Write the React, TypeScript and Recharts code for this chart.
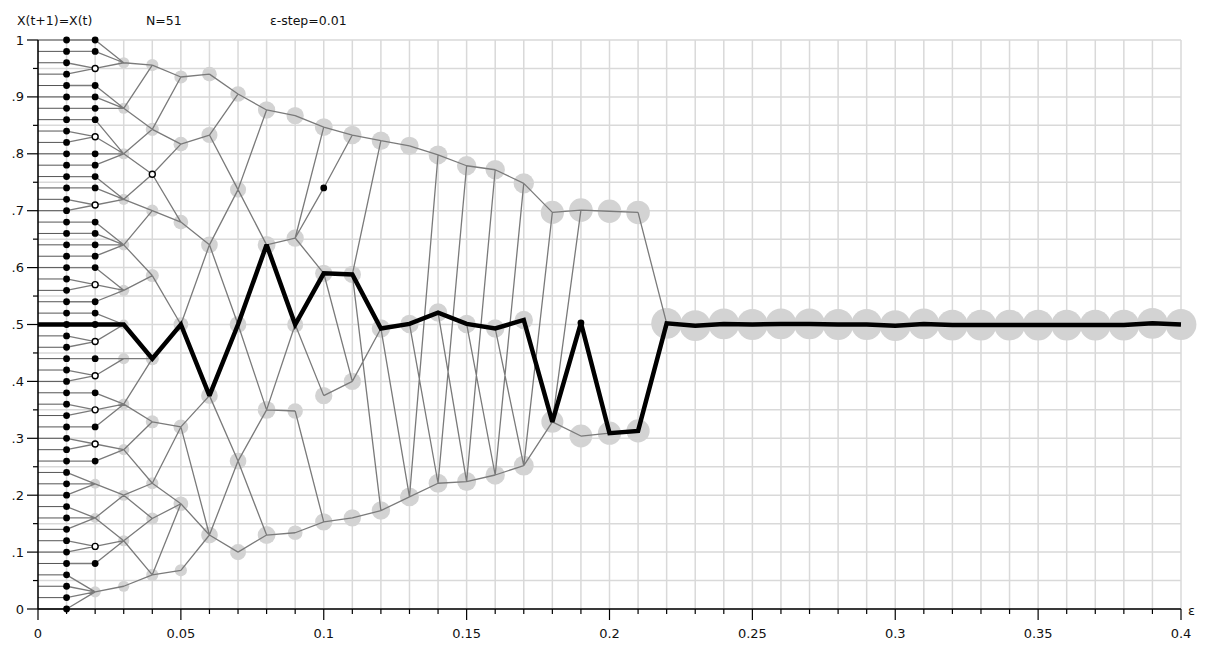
import React from 'react';
import { ComposedChart, Line, Scatter, XAxis, YAxis, CartesianGrid } from 'recharts';

// starting states of the N=51 elements
const initialValues = [
  0, 0.02, 0.04, 0.06, 0.08, 0.1, 0.12, 0.14, 0.16, 0.18, 0.2, 0.22, 0.24, 0.26, 0.28, 0.3, 0.32,
  0.34, 0.36, 0.38, 0.4, 0.42, 0.44, 0.46, 0.48, 0.5, 0.52, 0.54, 0.56, 0.58, 0.6, 0.62, 0.64, 0.66,
  0.68, 0.7, 0.72, 0.74, 0.76, 0.78, 0.8, 0.82, 0.84, 0.86, 0.88, 0.9, 0.92, 0.94, 0.96, 0.98, 1,
];

// single elements [eps, x]
const singleDots: [number, number][] = [
  [0.02, 1], [0.02, 0.98], [0.02, 0.92], [0.02, 0.9], [0.02, 0.88], [0.02, 0.86], [0.02, 0.8],
  [0.02, 0.78], [0.02, 0.76], [0.02, 0.74], [0.02, 0.68], [0.02, 0.66], [0.02, 0.64], [0.02, 0.62],
  [0.02, 0.6], [0.02, 0.54], [0.02, 0.52], [0.02, 0.5], [0.02, 0.44], [0.02, 0.38], [0.02, 0.32],
  [0.02, 0.26], [0.02, 0.08], [0.1, 0.74], [0.19, 0.503],
];

// pairs of elements [eps, x]
const pairDots: [number, number][] = [
  [0.02, 0.95], [0.02, 0.83], [0.02, 0.71], [0.02, 0.57], [0.02, 0.47], [0.02, 0.41],
  [0.02, 0.35], [0.02, 0.29], [0.02, 0.11], [0.04, 0.764],
];

// clusters [eps, x, members]
const clusters: [number, number, number][] = [
  [0.02, 0.22, 3], [0.02, 0.16, 3], [0.02, 0.03, 4],
  [0.03, 0.96, 4], [0.03, 0.88, 4], [0.03, 0.8, 4], [0.03, 0.72, 4], [0.03, 0.64, 4], [0.03, 0.56, 4],
  [0.03, 0.5, 3], [0.03, 0.44, 4], [0.03, 0.36, 4], [0.03, 0.28, 4], [0.03, 0.2, 4], [0.03, 0.12, 4], [0.03, 0.04, 4],
  [0.04, 0.956, 5], [0.04, 0.843, 6], [0.04, 0.7, 5], [0.04, 0.586, 6], [0.04, 0.44, 6],
  [0.04, 0.329, 6], [0.04, 0.221, 5], [0.04, 0.159, 5], [0.04, 0.06, 5],
  [0.05, 0.935, 6], [0.05, 0.817, 8], [0.05, 0.68, 8], [0.05, 0.5, 8], [0.05, 0.32, 8], [0.05, 0.185, 8], [0.05, 0.068, 5],
  [0.06, 0.94, 8], [0.06, 0.833, 10], [0.06, 0.64, 11], [0.06, 0.375, 11], [0.06, 0.13, 11],
  [0.07, 0.905, 9], [0.07, 0.737, 10], [0.07, 0.5, 11], [0.07, 0.26, 11], [0.07, 0.1, 10],
  [0.08, 0.877, 12], [0.08, 0.64, 13], [0.08, 0.35, 13], [0.08, 0.13, 13],
  [0.09, 0.867, 12], [0.09, 0.652, 12], [0.09, 0.5, 10], [0.09, 0.348, 9], [0.09, 0.134, 8],
  [0.1, 0.847, 13], [0.1, 0.59, 12], [0.1, 0.375, 12], [0.1, 0.153, 12],
  [0.11, 0.833, 14], [0.11, 0.588, 12], [0.11, 0.4, 12], [0.11, 0.16, 12],
  [0.12, 0.823, 14], [0.12, 0.493, 14], [0.12, 0.173, 14],
  [0.13, 0.814, 14], [0.13, 0.501, 14], [0.13, 0.197, 15],
  [0.14, 0.798, 15], [0.14, 0.521, 14], [0.14, 0.221, 15],
  [0.15, 0.779, 16], [0.15, 0.501, 14], [0.15, 0.224, 15],
  [0.16, 0.772, 16], [0.16, 0.493, 14], [0.16, 0.2355, 16],
  [0.17, 0.748, 18], [0.17, 0.508, 14], [0.17, 0.252, 17],
  [0.18, 0.697, 25], [0.18, 0.329, 22],
  [0.19, 0.701, 26], [0.19, 0.304, 24],
  [0.2, 0.699, 26], [0.2, 0.309, 25],
  [0.21, 0.697, 26], [0.21, 0.313, 25],
  [0.22, 0.502, 51], [0.23, 0.498, 51], [0.24, 0.501, 51], [0.25, 0.5, 51], [0.26, 0.501, 51],
  [0.27, 0.501, 51], [0.28, 0.5, 51], [0.29, 0.5, 51], [0.3, 0.498, 51], [0.31, 0.501, 51],
  [0.32, 0.499, 51], [0.33, 0.499, 51], [0.34, 0.499, 51], [0.35, 0.499, 51], [0.36, 0.499, 51],
  [0.37, 0.499, 51], [0.38, 0.499, 51], [0.39, 0.502, 51], [0.4, 0.5, 51],
];

// transitions [eps, x at eps, x at eps + step]
const links: [number, number, number][] = [
  [0.01, 1, 1], [0.01, 0.98, 0.98], [0.01, 0.96, 0.95], [0.01, 0.94, 0.95], [0.01, 0.92, 0.92],
  [0.01, 0.9, 0.9], [0.01, 0.88, 0.88], [0.01, 0.86, 0.86], [0.01, 0.84, 0.83], [0.01, 0.82, 0.83],
  [0.01, 0.8, 0.8], [0.01, 0.78, 0.78], [0.01, 0.76, 0.76], [0.01, 0.74, 0.74], [0.01, 0.72, 0.71],
  [0.01, 0.7, 0.71], [0.01, 0.68, 0.68], [0.01, 0.66, 0.66], [0.01, 0.64, 0.64], [0.01, 0.62, 0.62],
  [0.01, 0.6, 0.6], [0.01, 0.58, 0.57], [0.01, 0.56, 0.57], [0.01, 0.54, 0.54], [0.01, 0.52, 0.52],
  [0.01, 0.5, 0.5], [0.01, 0.48, 0.47], [0.01, 0.46, 0.47], [0.01, 0.44, 0.44], [0.01, 0.42, 0.41],
  [0.01, 0.4, 0.41], [0.01, 0.38, 0.38], [0.01, 0.36, 0.35], [0.01, 0.34, 0.35], [0.01, 0.32, 0.32],
  [0.01, 0.3, 0.29], [0.01, 0.28, 0.29], [0.01, 0.26, 0.26], [0.01, 0.24, 0.22], [0.01, 0.22, 0.22],
  [0.01, 0.2, 0.22], [0.01, 0.18, 0.16], [0.01, 0.16, 0.16], [0.01, 0.14, 0.16], [0.01, 0.12, 0.11],
  [0.01, 0.1, 0.11], [0.01, 0.08, 0.08], [0.01, 0.06, 0.03], [0.01, 0.04, 0.03], [0.01, 0.02, 0.03],
  [0.01, 0, 0.03],
  [0.02, 1, 0.96], [0.02, 0.98, 0.96], [0.02, 0.95, 0.96], [0.02, 0.92, 0.88], [0.02, 0.9, 0.88],
  [0.02, 0.88, 0.88], [0.02, 0.86, 0.8], [0.02, 0.83, 0.8], [0.02, 0.8, 0.8], [0.02, 0.78, 0.8],
  [0.02, 0.76, 0.72], [0.02, 0.74, 0.72], [0.02, 0.71, 0.72], [0.02, 0.68, 0.64], [0.02, 0.66, 0.64],
  [0.02, 0.64, 0.64], [0.02, 0.62, 0.64], [0.02, 0.6, 0.56], [0.02, 0.57, 0.56], [0.02, 0.54, 0.56],
  [0.02, 0.52, 0.5], [0.02, 0.5, 0.5], [0.02, 0.47, 0.5], [0.02, 0.44, 0.44], [0.02, 0.41, 0.44],
  [0.02, 0.38, 0.36], [0.02, 0.35, 0.36], [0.02, 0.32, 0.36], [0.02, 0.29, 0.28], [0.02, 0.26, 0.28],
  [0.02, 0.22, 0.2], [0.02, 0.16, 0.2], [0.02, 0.16, 0.12], [0.02, 0.11, 0.12], [0.02, 0.08, 0.12],
  [0.02, 0.03, 0.04],
  [0.03, 0.96, 0.956], [0.03, 0.88, 0.956], [0.03, 0.88, 0.843], [0.03, 0.8, 0.843], [0.03, 0.8, 0.764],
  [0.03, 0.72, 0.764], [0.03, 0.72, 0.7], [0.03, 0.64, 0.7], [0.03, 0.64, 0.586], [0.03, 0.56, 0.586],
  [0.03, 0.5, 0.44], [0.03, 0.44, 0.44], [0.03, 0.36, 0.44], [0.03, 0.36, 0.329], [0.03, 0.28, 0.329],
  [0.03, 0.28, 0.221], [0.03, 0.2, 0.221], [0.03, 0.2, 0.159], [0.03, 0.12, 0.159], [0.03, 0.12, 0.06],
  [0.03, 0.04, 0.06],
  [0.04, 0.956, 0.935], [0.04, 0.843, 0.935], [0.04, 0.843, 0.817], [0.04, 0.764, 0.817],
  [0.04, 0.764, 0.68], [0.04, 0.7, 0.68], [0.04, 0.586, 0.5], [0.04, 0.44, 0.5], [0.04, 0.329, 0.32],
  [0.04, 0.221, 0.32], [0.04, 0.221, 0.185], [0.04, 0.159, 0.185], [0.04, 0.06, 0.185], [0.04, 0.06, 0.068],
  [0.05, 0.935, 0.94], [0.05, 0.817, 0.833], [0.05, 0.68, 0.64], [0.05, 0.5, 0.64], [0.05, 0.5, 0.375],
  [0.05, 0.32, 0.375], [0.05, 0.32, 0.13], [0.05, 0.185, 0.13], [0.05, 0.068, 0.13],
  [0.06, 0.94, 0.905], [0.06, 0.833, 0.905], [0.06, 0.833, 0.737], [0.06, 0.64, 0.737], [0.06, 0.64, 0.5],
  [0.06, 0.375, 0.5], [0.06, 0.375, 0.26], [0.06, 0.13, 0.26], [0.06, 0.13, 0.1],
  [0.07, 0.905, 0.877], [0.07, 0.737, 0.877], [0.07, 0.737, 0.64], [0.07, 0.5, 0.64], [0.07, 0.5, 0.35],
  [0.07, 0.26, 0.35], [0.07, 0.26, 0.13], [0.07, 0.1, 0.13],
  [0.08, 0.877, 0.867], [0.08, 0.64, 0.652], [0.08, 0.64, 0.5], [0.08, 0.35, 0.5], [0.08, 0.35, 0.348],
  [0.08, 0.13, 0.134],
  [0.09, 0.867, 0.847], [0.09, 0.652, 0.847], [0.09, 0.652, 0.74], [0.09, 0.652, 0.59], [0.09, 0.5, 0.59],
  [0.09, 0.5, 0.375], [0.09, 0.348, 0.153], [0.09, 0.134, 0.153],
  [0.1, 0.847, 0.833], [0.1, 0.74, 0.833], [0.1, 0.59, 0.588], [0.1, 0.59, 0.4], [0.1, 0.375, 0.4],
  [0.1, 0.153, 0.16],
  [0.11, 0.833, 0.823], [0.11, 0.588, 0.823], [0.11, 0.588, 0.493], [0.11, 0.4, 0.493], [0.11, 0.588, 0.173],
  [0.11, 0.16, 0.173],
  [0.12, 0.823, 0.814], [0.12, 0.493, 0.501], [0.12, 0.493, 0.197], [0.12, 0.173, 0.197],
  [0.13, 0.814, 0.798], [0.13, 0.501, 0.521], [0.13, 0.501, 0.221], [0.13, 0.197, 0.221], [0.13, 0.197, 0.798],
  [0.14, 0.798, 0.779], [0.14, 0.521, 0.501], [0.14, 0.521, 0.224], [0.14, 0.221, 0.224], [0.14, 0.221, 0.779],
  [0.15, 0.779, 0.772], [0.15, 0.501, 0.493], [0.15, 0.501, 0.2355], [0.15, 0.224, 0.2355], [0.15, 0.224, 0.772],
  [0.16, 0.772, 0.748], [0.16, 0.493, 0.508], [0.16, 0.493, 0.252], [0.16, 0.2355, 0.252], [0.16, 0.2355, 0.748],
  [0.17, 0.748, 0.697], [0.17, 0.508, 0.329], [0.17, 0.252, 0.329], [0.17, 0.252, 0.697],
  [0.18, 0.697, 0.701], [0.18, 0.329, 0.304], [0.18, 0.329, 0.503], [0.18, 0.329, 0.701],
  [0.19, 0.701, 0.699], [0.19, 0.304, 0.309], [0.19, 0.503, 0.309],
  [0.2, 0.699, 0.697], [0.2, 0.309, 0.313],
  [0.21, 0.697, 0.502], [0.21, 0.313, 0.502],
];

// element that starts at X=0.5
const trackedEps = [
  0, 0.01, 0.02, 0.03, 0.04, 0.05, 0.06, 0.07, 0.08, 0.09, 0.1, 0.11, 0.12, 0.13, 0.14, 0.15, 0.16,
  0.17, 0.18, 0.19, 0.2, 0.21, 0.22, 0.23, 0.24, 0.25, 0.26, 0.27, 0.28, 0.29, 0.3, 0.31, 0.32, 0.33,
  0.34, 0.35, 0.36, 0.37, 0.38, 0.39, 0.4,
];
const trackedX = [
  0.5, 0.5, 0.5, 0.5, 0.44, 0.5, 0.375, 0.5, 0.64, 0.5, 0.59, 0.588, 0.493, 0.501, 0.521, 0.501, 0.493,
  0.508, 0.329, 0.503, 0.309, 0.313, 0.502, 0.498, 0.501, 0.5, 0.501, 0.501, 0.5, 0.5, 0.498, 0.501,
  0.499, 0.499, 0.499, 0.499, 0.499, 0.499, 0.499, 0.502, 0.5,
];

const xTicks = trackedEps;
const yTicks = [
  0, 0.05, 0.1, 0.15, 0.2, 0.25, 0.3, 0.35, 0.4, 0.45, 0.5, 0.55, 0.6, 0.65, 0.7, 0.75, 0.8, 0.85, 0.9,
  0.95, 1,
];
const EPS_STEP = 0.01;

const FONT = '"DejaVu Sans", sans-serif';

const startLines = initialValues.flatMap((v) => [
  { e: 0, v },
  { e: EPS_STEP, v },
  { e: EPS_STEP, v: null },
]);
const linkLines = links.flatMap(([e, a, b]) => [
  { e, v: a },
  { e: e + EPS_STEP, v: b },
  { e: e + EPS_STEP, v: null },
]);
const clusterData = clusters.map(([e, v, n]) => ({ e, v, n }));
const firstColumn = initialValues.map((v) => ({ e: EPS_STEP, v }));
const singleData = [...firstColumn, ...singleDots.map(([e, v]) => ({ e, v }))];
const pairData = pairDots.map(([e, v]) => ({ e, v }));
const trackedData = trackedEps.map((e, i) => ({ e, v: trackedX[i] }));

const ClusterShape = (p: any) => (
  <circle cx={p.cx} cy={p.cy} r={3.2 * Math.pow(p.payload.n, 0.4)} fill="#d3d3d3" />
);
const DotShape = (p: any) => <circle cx={p.cx} cy={p.cy} r={3.4} fill="#000" />;
const PairShape = (p: any) => (
  <circle cx={p.cx} cy={p.cy} r={3} fill="#fff" stroke="#000" strokeWidth={1.4} />
);

const XTick = ({ x, y, payload }: any) => {
  const k = Math.round(payload.value * 100);
  const major = k % 5 === 0;
  return (
    <g>
      <line x1={x} y1={y} x2={x} y2={y + (major ? 11 : 5)} stroke="#000" strokeWidth={1.2} />
      {major && (
        <text x={x} y={y + 29} textAnchor="middle" fontSize={13} fontFamily={FONT} fill="#111">
          {String(k / 100)}
        </text>
      )}
    </g>
  );
};

const YTick = ({ x, y, payload }: any) => {
  const k = Math.round(payload.value * 100);
  const major = k % 10 === 0;
  const label = k === 100 ? '1' : k === 0 ? '0' : '.' + k / 10;
  return (
    <g>
      <line x1={x - (major ? 11 : 5)} y1={y} x2={x} y2={y} stroke="#000" strokeWidth={1.2} />
      {major && (
        <text x={x - 14} y={y + 4.5} textAnchor="end" fontSize={13} fontFamily={FONT} fill="#111">
          {label}
        </text>
      )}
    </g>
  );
};

export default function App() {
  return (
    <div style={{ position: 'relative', width: 1200, height: 645 }}>
      <ComposedChart width={1200} height={645} margin={{ top: 32, right: 27, bottom: 14, left: 0 }}>
        <CartesianGrid stroke="#d9d9d9" strokeWidth={1.5} />
        <XAxis
          type="number"
          dataKey="e"
          domain={[0, 0.4]}
          ticks={xTicks}
          interval={0}
          height={30}
          tickSize={0}
          tickMargin={0}
          tickLine={false}
          tick={<XTick />}
          axisLine={{ stroke: '#000', strokeWidth: 1.5 }}
        />
        <YAxis
          type="number"
          dataKey="v"
          domain={[0, 1]}
          ticks={yTicks}
          interval={0}
          width={30}
          tickSize={0}
          tickMargin={0}
          tickLine={false}
          tick={<YTick />}
          axisLine={{ stroke: '#000', strokeWidth: 1.5 }}
        />
        <Scatter data={clusterData} shape={ClusterShape} isAnimationActive={false} zIndex={100} />
        <Line
          data={startLines}
          dataKey="v"
          stroke="#555"
          strokeWidth={1}
          dot={false}
          connectNulls={false}
          isAnimationActive={false}
          zIndex={200}
        />
        <Line
          data={linkLines}
          dataKey="v"
          stroke="#7a7a7a"
          strokeWidth={1.3}
          dot={false}
          connectNulls={false}
          isAnimationActive={false}
          zIndex={210}
        />
        <Scatter data={singleData} shape={DotShape} isAnimationActive={false} zIndex={300} />
        <Scatter data={pairData} shape={PairShape} isAnimationActive={false} zIndex={310} />
        <Line
          data={trackedData}
          dataKey="v"
          stroke="#000"
          strokeWidth={4.5}
          strokeLinejoin="miter"
          strokeMiterlimit={2.5}
          dot={false}
          isAnimationActive={false}
          zIndex={400}
        />
      </ComposedChart>
      <svg
        width={1200}
        height={645}
        style={{ position: 'absolute', left: 0, top: 0, pointerEvents: 'none' }}
        fontFamily={FONT}
        fontSize={12.5}
        fill="#111"
      >
        <text x={9} y={17}>X(t+1)=X(t)</text>
        <text x={138} y={17}>N=51</text>
        <text x={262} y={17}>ε-step=0.01</text>
        <text x={1180} y={607} fontSize={13}>ε</text>
      </svg>
    </div>
  );
}
